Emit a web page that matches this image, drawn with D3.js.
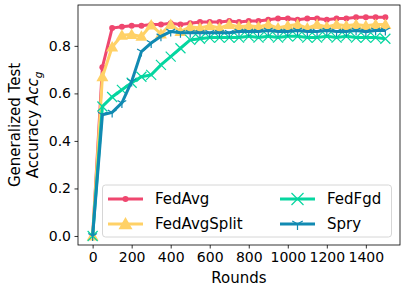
<!DOCTYPE html>
<html>
<head>
<meta charset="utf-8">
<script src="https://cdn.jsdelivr.net/npm/d3@7"></script>
<style>
  body { margin: 0; background: #fff; }
  svg { font-family: "DejaVu Sans", sans-serif; }
</style>
</head>
<body>
<svg width="407" height="293"></svg>
<script>
const rounds = d3.range(0, 1501, 50);

const fedAvg = [0, 0.71, 0.875, 0.88, 0.885, 0.885, 0.89, 0.89, 0.895, 0.89, 0.895, 0.9, 0.9, 0.9, 0.905, 0.9,
  0.905, 0.905, 0.91, 0.915, 0.915, 0.91, 0.915, 0.915, 0.91, 0.915, 0.915, 0.92, 0.92, 0.92, 0.92];
const fedAvgSplit = [0, 0.67, 0.795, 0.845, 0.848, 0.84, 0.888, 0.85, 0.89, 0.86, 0.88, 0.875, 0.885, 0.875, 0.89, 0.88,
  0.885, 0.88, 0.89, 0.875, 0.885, 0.89, 0.875, 0.89, 0.88, 0.89, 0.885, 0.89, 0.885, 0.89, 0.89];
const fedFgd = [0, 0.545, 0.585, 0.615, 0.645, 0.67, 0.678, 0.72, 0.755, 0.79, 0.825, 0.83, 0.835, 0.835, 0.835, 0.835,
  0.84, 0.835, 0.84, 0.835, 0.84, 0.84, 0.835, 0.835, 0.84, 0.835, 0.84, 0.835, 0.835, 0.835, 0.83];
const spry = [0, 0.51, 0.52, 0.56, 0.65, 0.776, 0.812, 0.84, 0.86, 0.855, 0.855, 0.855, 0.855, 0.855, 0.855, 0.86,
  0.86, 0.86, 0.865, 0.86, 0.86, 0.865, 0.86, 0.86, 0.865, 0.86, 0.86, 0.865, 0.86, 0.865, 0.865];

const xTicks = [0, 200, 400, 600, 800, 1000, 1200, 1400];
const yTicks = [0.0, 0.2, 0.4, 0.6, 0.8];

const series = [
  {name: 'FedAvg', values: fedAvg, color: '#EF476F', marker: 'circle'},
  {name: 'FedAvgSplit', values: fedAvgSplit, color: '#FFD166', marker: 'triangle'},
  {name: 'FedFgd', values: fedFgd, color: '#06D6A0', marker: 'x'},
  {name: 'Spry', values: spry, color: '#118AB2', marker: 'tri'}
];

const svg = d3.select('svg');
const margin = {top: 5, right: 7, bottom: 48, left: 78};
const width = 407, height = 293;

const x = d3.scaleLinear().domain([-75, 1575]).range([margin.left, width - margin.right]);
const y = d3.scaleLinear().domain([-0.038, 0.972]).range([height - margin.bottom, margin.top]);

// axes
const xAxis = svg.append('g')
  .attr('transform', `translate(0,${height - margin.bottom})`)
  .call(d3.axisBottom(x).tickValues(xTicks).tickSize(3.5).tickPadding(3.5).tickFormat(d3.format('d')));
const yAxis = svg.append('g')
  .attr('transform', `translate(${margin.left},0)`)
  .call(d3.axisLeft(y).tickValues(yTicks).tickSize(3.5).tickPadding(3.5).tickFormat(d3.format('.1f')));
[xAxis, yAxis].forEach(a => {
  a.select('.domain').remove();
  a.selectAll('text').attr('font-size', 14).attr('fill', '#000').attr('font-family', '"DejaVu Sans", sans-serif');
  a.selectAll('line').attr('stroke', '#000').attr('stroke-width', 0.8);
});

function drawMarker(g, type, cx, cy, color, s) {
  if (type === 'circle') {
    g.append('circle').attr('cx', cx).attr('cy', cy).attr('r', s).attr('fill', color);
  } else if (type === 'triangle') {
    const h = s;
    g.append('path')
      .attr('d', `M${cx},${cy - h}L${cx + h},${cy + h * 0.75}L${cx - h},${cy + h * 0.75}Z`)
      .attr('fill', color);
  } else if (type === 'x') {
    g.append('path')
      .attr('d', `M${cx - s},${cy - s}L${cx + s},${cy + s}M${cx - s},${cy + s}L${cx + s},${cy - s}`)
      .attr('stroke', color).attr('stroke-width', 1.2).attr('fill', 'none');
  } else {
    g.append('path')
      .attr('d', `M${cx},${cy}L${cx},${cy + s}M${cx},${cy}L${cx - s * 0.87},${cy - s * 0.5}M${cx},${cy}L${cx + s * 0.87},${cy - s * 0.5}`)
      .attr('stroke', color).attr('stroke-width', 1.2).attr('fill', 'none');
  }
}

const sizes = {circle: 3, triangle: 6, x: 5, tri: 5};

const plot = svg.append('g');
const line = d3.line().x((d, i) => x(rounds[i])).y(d => y(d));
series.forEach(s => {
  const g = plot.append('g');
  g.append('path').datum(s.values)
    .attr('d', line)
    .attr('fill', 'none')
    .attr('stroke', s.color)
    .attr('stroke-width', 3);
  s.values.forEach((v, i) => drawMarker(g, s.marker, x(rounds[i]), y(v), s.color, sizes[s.marker]));
});

// frame
svg.append('rect')
  .attr('x', margin.left).attr('y', margin.top)
  .attr('width', width - margin.left - margin.right)
  .attr('height', height - margin.top - margin.bottom)
  .attr('fill', 'none').attr('stroke', '#000').attr('stroke-width', 0.8);

// legend
const leg = svg.append('g');
leg.append('rect')
  .attr('x', 102.5).attr('y', 185).attr('width', 289).attr('height', 52).attr('rx', 3)
  .attr('fill', '#fff').attr('fill-opacity', 0.8).attr('stroke', '#ccc').attr('stroke-width', 0.8);
const legPos = [[108, 199], [108, 224], [280, 199], [280, 224]];
const legSizes = {circle: 3, triangle: 7, x: 6, tri: 6};
series.forEach((s, i) => {
  const [lx, ly] = legPos[i];
  leg.append('line').attr('x1', lx).attr('x2', lx + 35).attr('y1', ly).attr('y2', ly)
    .attr('stroke', s.color).attr('stroke-width', 3);
  drawMarker(leg, s.marker, lx + 17.5, ly, s.color, legSizes[s.marker]);
  leg.append('text').attr('x', lx + 47).attr('y', ly).attr('dy', '0.35em')
    .attr('font-size', 15).text(s.name);
});

// axis labels
svg.append('text').attr('x', (margin.left + width - margin.right) / 2).attr('y', 283)
  .attr('text-anchor', 'middle').attr('font-size', 15).text('Rounds');
const yl = svg.append('text')
  .attr('transform', `translate(20,${(margin.top + height - margin.bottom) / 2}) rotate(-90)`)
  .attr('text-anchor', 'middle').attr('font-size', 15);
yl.append('tspan').attr('x', 0).attr('y', 0).text('Generalized Test');
const l2 = yl.append('tspan').attr('x', 0).attr('y', 18).text('Accuracy ');
l2.append('tspan').attr('font-style', 'italic').text('Acc');
l2.append('tspan').attr('font-style', 'italic').attr('font-size', 10.5).attr('dy', 4).text('g');
</script>
</body>
</html>
